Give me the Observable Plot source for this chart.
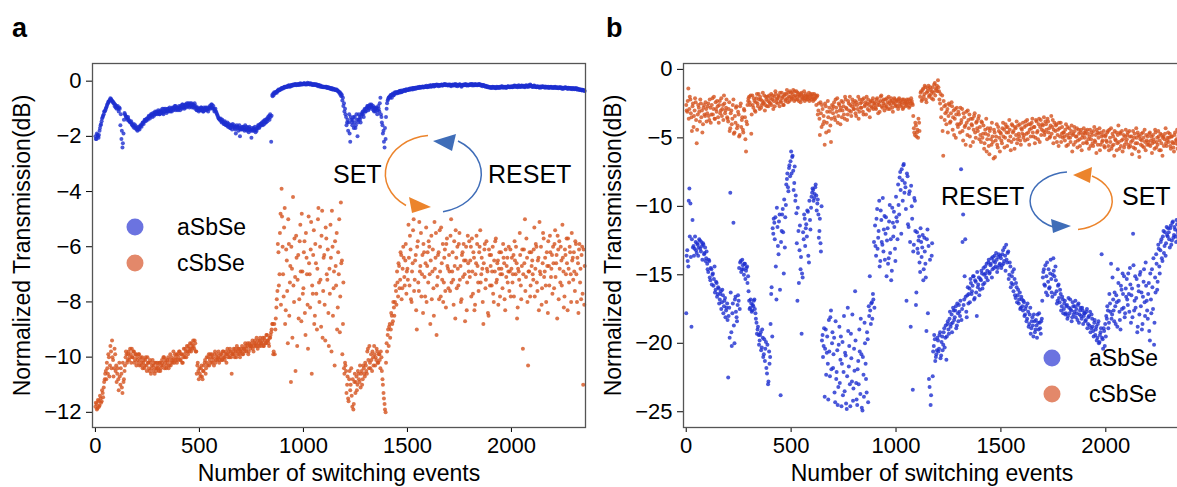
<!DOCTYPE html>
<html><head><meta charset="utf-8">
<script src="https://cdn.jsdelivr.net/npm/d3@7"></script>
<script src="https://cdn.jsdelivr.net/npm/@observablehq/plot@0.6"></script>
<style>
html,body{margin:0;padding:0;background:#fff;overflow:hidden;}
#wrap{position:relative;width:1177px;height:487px;overflow:hidden;font-family:"Liberation Sans",Arial,Helvetica,sans-serif;}
.panel{position:absolute;top:0;width:600px;height:487px;}
.panel svg{max-width:none !important;}
#overlay{position:absolute;left:0;top:0;pointer-events:none;}
</style></head>
<body><div id="wrap"><div id="pa" class="panel" style="left:0px"></div><div id="pb" class="panel" style="left:590px"></div></div>
<script>
// samples are stored every EVENT_STEP switching events; the *_alt lists are the samples
// taken ALT_OFFSET events later in each step
const EVENT_STEP = 5;
const ALT_OFFSET = 2;
const seriesNames = ["aSbSe", "cSbSe"];
const xTicks = [0, 500, 1000, 1500, 2000];
const yTicksA = [0, -2, -4, -6, -8, -10, -12];
const yTicksB = [0, -5, -10, -15, -20, -25];

// ---------- Panel a, aSbSe (blue) ----------
const aSbSe_a = [
-2.0,-2.1,-1.95,-2.05,-1.8,-1.6,-1.45,-1.3,-1.2,-1.1,-1.0,-0.9,-0.8,-0.75,-0.68,-0.65,-0.7,-0.75,-0.8,-0.85,
-0.9,-0.95,-1.0,-0.95,-1.6,-2.1,-2.4,-1.9,-1.15,-1.25,-1.3,-1.35,-1.4,-1.45,-1.5,-1.55,-1.6,-1.55,-1.65,-1.7,
-1.7,-1.75,-1.7,-1.65,-1.6,-1.55,-1.5,-1.45,-1.4,-1.4,-1.35,-1.3,-1.3,-1.25,-1.2,-1.3,-1.2,-1.15,-1.2,-1.1,
-1.15,-1.1,-1.2,-1.05,-1.1,-1.15,-1.0,-1.1,-1.05,-1.1,-1.0,-1.05,-1.1,-1.0,-0.95,-1.05,-1.0,-0.9,-1.0,-0.95,
-1.0,-0.95,-0.9,-1.0,-0.85,-0.9,-0.95,-0.85,-0.8,-0.9,-0.85,-0.8,-0.9,-0.95,-0.85,-0.9,-1.0,-0.95,-1.05,-1.0,
-1.0,-1.05,-0.95,-1.0,-1.1,-1.0,-0.95,-1.05,-1.0,-1.0,-0.9,-0.95,-0.85,-1.0,-1.0,-1.05,-1.1,-1.2,-1.3,-1.35,
-1.4,-1.45,-1.4,-1.5,-1.55,-1.5,-1.6,-1.5,-1.65,-1.6,-1.7,-1.6,-1.55,-1.65,-1.7,-1.9,-1.6,-1.65,-1.7,-2.0,
-1.7,-1.65,-1.75,-1.7,-1.6,-1.75,-1.8,-1.7,-1.65,-1.75,-2.05,-1.8,-1.7,-1.75,-1.85,-1.8,-1.7,-1.6,-1.65,-1.55,
-1.5,-1.6,-1.45,-1.4,-1.5,-1.35,-1.3,-1.25,-1.2,-2.2,-0.5,-0.45,-0.4,-0.42,-0.38,-0.35,-0.3,-0.32,-0.28,-0.25,
-0.25,-0.22,-0.2,-0.22,-0.18,-0.2,-0.15,-0.2,-0.18,-0.15,-0.12,-0.15,-0.1,-0.15,-0.12,-0.1,-0.14,-0.08,-0.12,-0.1,
-0.1,-0.08,-0.12,-0.1,-0.06,-0.1,-0.12,-0.08,-0.1,-0.14,-0.12,-0.1,-0.15,-0.12,-0.18,-0.15,-0.2,-0.18,-0.2,-0.22,
-0.2,-0.22,-0.2,-0.25,-0.22,-0.25,-0.28,-0.25,-0.3,-0.28,-0.3,-0.32,-0.3,-0.35,-0.38,-0.4,-0.45,-0.5,-0.6,-0.8,
-1.0,-1.3,-1.5,-1.8,-1.2,-2.2,-1.4,-1.6,-1.3,-1.5,-1.7,-1.2,-2.0,-1.4,-1.3,-1.5,-1.2,-1.1,-1.3,-1.0,
-1.1,-0.95,-0.9,-1.0,-0.85,-0.9,-1.0,-0.9,-1.1,-1.0,-0.95,-1.2,-0.9,-1.1,-0.6,-1.3,-1.6,-1.8,-2.4,-2.1,
-1.0,-0.7,-0.6,-0.55,-0.5,-0.6,-0.45,-0.5,-0.4,-0.45,-0.4,-0.38,-0.42,-0.35,-0.4,-0.38,-0.35,-0.32,-0.36,-0.3,
-0.32,-0.3,-0.28,-0.3,-0.26,-0.3,-0.25,-0.28,-0.24,-0.26,-0.22,-0.25,-0.2,-0.24,-0.22,-0.2,-0.22,-0.18,-0.2,-0.22,
-0.2,-0.18,-0.15,-0.2,-0.17,-0.14,-0.18,-0.15,-0.12,-0.16,-0.18,-0.14,-0.15,-0.12,-0.16,-0.14,-0.1,-0.15,-0.13,-0.16,
-0.15,-0.12,-0.18,-0.14,-0.16,-0.12,-0.1,-0.15,-0.18,-0.14,-0.12,-0.16,-0.2,-0.15,-0.12,-0.14,-0.1,-0.16,-0.13,-0.15,
-0.14,-0.1,-0.12,-0.16,-0.13,-0.1,-0.15,-0.12,-0.14,-0.1,-0.12,-0.15,-0.18,-0.14,-0.16,-0.2,-0.18,-0.22,-0.2,-0.24,
-0.22,-0.25,-0.2,-0.24,-0.22,-0.26,-0.2,-0.23,-0.25,-0.2,-0.22,-0.18,-0.24,-0.2,-0.22,-0.25,-0.2,-0.18,-0.22,-0.2,
-0.18,-0.22,-0.2,-0.16,-0.2,-0.18,-0.22,-0.15,-0.18,-0.2,-0.16,-0.2,-0.18,-0.22,-0.15,-0.18,-0.2,-0.17,-0.12,-0.16,
-0.18,-0.2,-0.16,-0.2,-0.22,-0.18,-0.2,-0.24,-0.2,-0.22,-0.18,-0.2,-0.22,-0.24,-0.2,-0.22,-0.25,-0.22,-0.2,-0.24,
-0.22,-0.25,-0.2,-0.24,-0.22,-0.26,-0.24,-0.22,-0.25,-0.28,-0.24,-0.26,-0.22,-0.25,-0.28,-0.24,-0.26,-0.28,-0.25,-0.27,
-0.26,-0.28,-0.25,-0.3,-0.28,-0.3,-0.32,-0.3,-0.34,-0.32,-0.35
];
const aSbSe_a_alt = [
-2.1,-1.9,-2.0,-1.95,-1.7,-1.55,-1.35,-1.25,-1.1,-1.05,-0.95,-0.85,-0.75,-0.7,-0.62,-0.7,-0.75,-0.8,-0.9,-0.95,
-1.0,-0.9,-1.1,-1.0,-1.2,-1.8,-2.25,-1.4,-1.2,-1.3,-1.4,-1.3,-1.45,-1.5,-1.45,-1.6,-1.65,-1.7,-1.6,-1.75,
-1.8,-1.65,-1.75,-1.6,-1.65,-1.5,-1.55,-1.4,-1.45,-1.35,-1.4,-1.25,-1.35,-1.2,-1.25,-1.15,-1.25,-1.1,-1.15,-1.2,
-1.05,-1.2,-1.1,-1.15,-1.0,-1.2,-1.1,-1.0,-1.15,-1.0,-1.1,-0.95,-1.05,-1.1,-1.0,-0.95,-0.9,-1.05,-0.95,-1.05,
-0.9,-1.05,-0.95,-0.85,-0.95,-1.0,-0.85,-0.95,-0.9,-0.8,-0.95,-0.9,-0.8,-0.85,-0.95,-0.8,-0.9,-1.05,-0.95,-1.1,
-1.05,-0.95,-1.05,-1.1,-0.95,-1.05,-1.0,-0.95,-1.1,-0.95,-1.0,-0.85,-0.95,-0.9,-1.1,-1.0,-1.15,-1.25,-1.35,-1.4,
-1.35,-1.5,-1.45,-1.55,-1.45,-1.6,-1.55,-1.65,-1.55,-1.7,-1.6,-1.75,-1.65,-1.6,-1.75,-1.65,-1.7,-1.8,-1.6,-1.75,
-1.75,-1.7,-1.65,-1.8,-1.75,-1.65,-1.7,-1.85,-1.75,-1.8,-1.7,-1.75,-1.8,-1.65,-1.75,-1.7,-1.6,-1.7,-1.55,-1.6,
-1.55,-1.45,-1.55,-1.5,-1.4,-1.45,-1.35,-1.4,-1.3,-1.25,-0.55,-0.5,-0.45,-0.4,-0.42,-0.36,-0.34,-0.3,-0.3,-0.27,
-0.27,-0.24,-0.22,-0.2,-0.2,-0.17,-0.18,-0.16,-0.14,-0.17,-0.14,-0.12,-0.13,-0.11,-0.14,-0.12,-0.1,-0.12,-0.09,-0.12,
-0.08,-0.11,-0.09,-0.12,-0.1,-0.08,-0.1,-0.12,-0.13,-0.1,-0.14,-0.13,-0.12,-0.16,-0.14,-0.17,-0.16,-0.2,-0.19,-0.2,
-0.22,-0.2,-0.24,-0.22,-0.26,-0.24,-0.27,-0.29,-0.27,-0.31,-0.29,-0.33,-0.34,-0.37,-0.42,-0.48,-0.55,-0.7,-0.9,-1.1,
-1.2,-1.6,-1.4,-1.5,-1.9,-1.3,-1.5,-1.4,-1.7,-1.3,-1.6,-1.4,-1.5,-1.2,-1.4,-1.3,-1.15,-1.2,-1.05,-1.1,
-1.0,-0.9,-1.05,-0.95,-0.9,-0.85,-0.95,-1.05,-0.95,-1.1,-1.0,-1.05,-1.0,-0.8,-1.2,-1.5,-1.9,-2.2,-1.7,-1.3,
-0.8,-0.65,-0.58,-0.6,-0.5,-0.48,-0.52,-0.45,-0.42,-0.4,-0.44,-0.4,-0.36,-0.4,-0.34,-0.37,-0.33,-0.35,-0.3,-0.33,
-0.29,-0.32,-0.27,-0.29,-0.28,-0.25,-0.27,-0.24,-0.27,-0.23,-0.25,-0.21,-0.23,-0.21,-0.19,-0.23,-0.2,-0.21,-0.17,-0.2,
-0.17,-0.2,-0.16,-0.18,-0.15,-0.19,-0.14,-0.17,-0.15,-0.13,-0.15,-0.17,-0.13,-0.16,-0.13,-0.11,-0.14,-0.12,-0.15,-0.12,
-0.13,-0.16,-0.14,-0.12,-0.15,-0.14,-0.17,-0.12,-0.14,-0.16,-0.11,-0.14,-0.17,-0.13,-0.15,-0.12,-0.15,-0.13,-0.16,-0.12,
-0.12,-0.15,-0.1,-0.13,-0.15,-0.12,-0.13,-0.15,-0.11,-0.13,-0.16,-0.13,-0.15,-0.17,-0.18,-0.17,-0.2,-0.19,-0.22,-0.21,
-0.24,-0.21,-0.23,-0.21,-0.25,-0.22,-0.24,-0.21,-0.22,-0.24,-0.19,-0.22,-0.21,-0.23,-0.2,-0.22,-0.19,-0.21,-0.2,-0.22,
-0.2,-0.19,-0.17,-0.2,-0.17,-0.2,-0.18,-0.19,-0.21,-0.17,-0.19,-0.17,-0.2,-0.18,-0.17,-0.2,-0.15,-0.19,-0.16,-0.19,
-0.21,-0.17,-0.19,-0.21,-0.19,-0.21,-0.22,-0.19,-0.23,-0.19,-0.21,-0.23,-0.19,-0.21,-0.23,-0.2,-0.23,-0.21,-0.24,-0.22,
-0.24,-0.21,-0.23,-0.25,-0.23,-0.24,-0.22,-0.26,-0.23,-0.25,-0.27,-0.23,-0.26,-0.24,-0.26,-0.27,-0.25,-0.27,-0.29,-0.26,
-0.29,-0.27,-0.29,-0.27,-0.31,-0.29,-0.31,-0.33,-0.31,-0.33,-0.36
];

// ---------- Panel a, cSbSe (orange) ----------
const cSbSe_a = [
-11.8,-11.7,-11.85,-11.6,-11.75,-11.5,-11.6,-11.3,-11.1,-10.8,-10.5,-10.2,-10.6,-10.0,-10.3,-9.8,-9.4,-10.1,-10.4,-9.9,
-10.3,-10.6,-10.8,-10.2,-11.0,-10.6,-11.3,-10.9,-10.5,-10.0,-9.9,-10.1,-9.8,-10.0,-9.9,-9.7,-10.0,-9.8,-10.1,-9.9,
-10.0,-10.2,-9.9,-10.1,-10.3,-10.0,-10.2,-10.4,-10.1,-10.3,-10.0,-10.2,-10.5,-10.2,-10.4,-10.1,-10.3,-10.6,-10.2,-10.4,
-10.3,-10.5,-10.2,-10.4,-10.1,-10.3,-10.0,-10.2,-10.4,-10.1,-10.0,-10.3,-9.9,-10.2,-10.1,-9.8,-10.2,-10.0,-9.9,-10.1,
-10.0,-9.8,-10.1,-9.9,-10.2,-9.7,-10.0,-9.8,-9.6,-9.9,-9.7,-9.5,-9.8,-9.6,-9.4,-9.7,-9.5,-9.8,-10.3,-10.5,
-10.4,-10.7,-10.3,-10.8,-10.5,-10.2,-10.6,-10.0,-10.3,-9.9,-10.1,-10.2,-9.9,-10.0,-10.3,-9.8,-10.1,-9.9,-10.0,-10.2,
-10.0,-9.9,-10.1,-9.8,-10.0,-9.9,-10.2,-9.7,-9.9,-10.0,-9.8,-10.6,-9.9,-9.7,-10.0,-9.8,-9.6,-9.9,-9.7,-10.0,
-9.8,-9.6,-9.9,-9.7,-9.5,-9.8,-9.6,-9.9,-9.5,-9.7,-9.6,-9.4,-9.8,-9.5,-9.6,-9.3,-9.7,-9.5,-9.4,-9.6,
-9.5,-9.3,-9.6,-9.4,-9.5,-9.2,-9.4,-9.6,-9.3,-9.1,-8.8,-9.9,-8.8,-9.0,-8.2,-7.6,-6.2,-7.0,-4.8,-3.9,
-6.0,-7.8,-4.6,-8.3,-6.5,-9.5,-5.9,-7.3,-10.9,-6.8,-4.2,-8.0,-7.1,-5.6,-9.6,-6.3,-7.9,-5.2,-8.7,-6.9,
-7.5,-5.8,-9.2,-6.4,-8.1,-4.9,-7.0,-6.1,-10.6,-7.7,-5.4,-8.5,-6.6,-9.0,-5.0,-7.3,-6.0,-8.9,-4.7,-7.6,
-6.3,-9.4,-5.7,-7.2,-8.4,-6.8,-5.2,-9.8,-6.0,-7.5,-10.3,-6.7,-5.5,-8.2,-7.0,-9.1,-4.4,-6.5,-8.8,-10.4,
-10.2,-10.5,-11.0,-11.5,-10.8,-11.2,-10.4,-11.8,-11.9,-10.9,-11.3,-10.7,-11.0,-10.6,-10.9,-11.1,-10.5,-10.8,-10.4,-10.7,
-10.3,-10.6,-9.7,-10.4,-10.2,-9.9,-10.5,-10.0,-9.6,-10.3,-10.1,-9.8,-10.2,-9.9,-10.4,-10.0,-10.8,-11.3,-11.7,-12.0,
-9.5,-9.2,-9.6,-8.8,-9.0,-8.5,-8.7,-8.2,-8.0,-7.6,-6.9,-7.8,-6.7,-7.2,-6.3,-7.5,-6.0,-7.1,-6.5,-7.7,
-6.8,-5.2,-7.4,-6.1,-8.0,-6.6,-5.0,-7.2,-6.3,-9.0,-5.8,-7.6,-6.9,-5.5,-7.0,-8.4,-6.2,-7.8,-5.3,-6.7,
-7.3,-6.0,-8.8,-5.6,-6.9,-7.5,-5.1,-6.4,-9.2,-7.1,-6.2,-5.4,-7.8,-6.6,-5.9,-7.3,-6.1,-8.2,-5.7,-6.8,
-6.3,-7.6,-5.0,-6.9,-7.2,-5.8,-8.6,-6.4,-6.0,-7.4,-5.5,-6.7,-7.9,-6.2,-5.9,-7.0,-6.5,-8.3,-5.6,-6.9,
-7.1,-6.0,-5.7,-7.7,-6.4,-8.1,-6.6,-5.9,-7.3,-6.2,-5.4,-7.0,-6.8,-8.8,-6.1,-7.5,-5.8,-6.9,-8.5,-6.3,
-6.7,-7.4,-6.0,-8.0,-6.9,-5.7,-7.2,-6.5,-6.8,-7.8,-6.2,-7.0,-5.9,-6.6,-8.3,-7.1,-6.4,-6.9,-7.6,-6.1,
-6.8,-7.3,-6.3,-5.8,-7.0,-6.6,-8.2,-6.9,-5.5,-7.4,-6.7,-9.7,-6.1,-5.0,-7.1,-6.4,-10.3,-6.9,-7.8,-6.2,
-6.5,-7.2,-5.3,-6.8,-6.0,-7.6,-6.4,-5.1,-7.0,-8.1,-6.6,-5.7,-6.9,-7.4,-6.2,-8.4,-6.7,-5.6,-7.1,-6.3,
-6.0,-7.5,-5.4,-6.6,-8.6,-6.1,-5.8,-7.3,-6.5,-5.2,-6.9,-7.8,-6.3,-5.7,-8.3,-6.8,-6.0,-7.0,-5.5,-6.4,
-6.2,-7.6,-5.9,-8.0,-6.6,-6.1,-7.3,-7.9,-6.0,-11.0,-8.1
];
const cSbSe_a_alt = [
-11.65,-11.9,-11.55,-11.8,-11.4,-11.65,-11.2,-11.45,-10.9,-10.6,-10.8,-10.4,-9.9,-10.7,-9.6,-10.4,-10.0,-10.7,-9.7,-10.5,
-10.9,-10.4,-11.2,-10.7,-10.4,-11.1,-10.2,-10.8,-10.3,-9.8,-10.2,-9.9,-10.1,-9.7,-10.2,-10.0,-9.8,-10.2,-9.9,-10.3,
-10.1,-9.9,-10.3,-10.0,-10.2,-10.4,-10.1,-10.3,-10.0,-10.5,-10.2,-10.4,-10.1,-10.6,-10.3,-10.5,-10.2,-10.4,-10.5,-10.2,
-10.4,-10.2,-10.5,-10.3,-10.2,-10.0,-10.4,-10.1,-10.3,-10.2,-10.4,-10.1,-10.3,-10.0,-10.2,-10.1,-9.9,-10.1,-10.2,-9.9,
-9.8,-10.1,-9.9,-10.2,-10.0,-9.9,-9.7,-10.0,-9.8,-9.6,-9.8,-9.7,-9.5,-9.7,-9.6,-9.4,-9.8,-10.6,-10.2,-10.8,
-10.6,-10.4,-10.7,-10.5,-10.3,-10.1,-10.4,-10.2,-10.0,-10.3,-9.9,-10.0,-10.2,-10.1,-9.9,-10.2,-10.0,-10.1,-9.8,-10.1,
-9.9,-10.1,-9.8,-10.0,-10.1,-9.8,-9.9,-10.0,-9.8,-9.7,-10.0,-9.9,-9.8,-9.9,-9.7,-10.0,-9.8,-9.7,-9.9,-9.8,
-9.7,-9.9,-9.7,-9.8,-9.6,-9.7,-9.5,-9.8,-9.6,-9.6,-9.5,-9.7,-9.6,-9.4,-9.5,-9.6,-9.4,-9.6,-9.3,-9.5,
-9.4,-9.6,-9.3,-9.5,-9.2,-9.4,-9.5,-9.3,-9.2,-9.0,-8.8,-9.8,-9.9,-8.6,-7.9,-5.9,-7.4,-5.5,-8.1,-4.9,
-7.0,-5.3,-8.8,-6.1,-7.6,-5.0,-8.5,-6.7,-6.0,-9.3,-7.4,-5.7,-10.5,-6.4,-7.2,-8.6,-5.8,-6.9,-4.8,-7.7,
-6.2,-8.4,-5.5,-7.0,-9.7,-6.6,-8.2,-5.1,-7.4,-6.3,-8.8,-5.9,-7.7,-6.8,-4.6,-8.0,-7.2,-5.6,-9.3,-6.4,
-8.1,-5.3,-7.0,-6.1,-9.6,-7.7,-6.4,-4.7,-8.5,-6.9,-5.8,-7.4,-9.0,-6.2,-5.0,-7.8,-6.6,-9.9,-7.3,-10.6,
-10.3,-11.3,-10.7,-11.6,-10.5,-11.0,-11.4,-10.8,-11.7,-10.6,-10.9,-11.2,-10.5,-10.8,-10.3,-10.6,-11.0,-10.3,-10.6,-10.2,
-10.5,-9.8,-10.1,-9.6,-10.4,-10.1,-9.8,-10.3,-9.9,-10.0,-9.7,-10.2,-9.9,-10.1,-9.8,-10.5,-11.0,-11.5,-11.9,-10.2,
-9.8,-9.0,-8.9,-9.3,-8.4,-8.8,-8.0,-8.5,-7.4,-8.1,-7.3,-6.6,-7.5,-6.2,-7.9,-6.8,-6.4,-7.4,-5.9,-6.9,
-7.2,-6.4,-5.6,-7.9,-6.9,-5.4,-7.6,-6.5,-8.3,-6.0,-7.3,-5.1,-6.7,-7.8,-6.3,-5.9,-7.1,-6.6,-8.0,-6.2,
-5.8,-7.0,-6.5,-7.9,-6.1,-8.5,-6.8,-5.5,-7.4,-6.3,-7.9,-6.9,-5.3,-7.2,-8.0,-6.4,-7.6,-5.9,-6.7,-7.5,
-6.9,-5.6,-7.3,-6.2,-8.1,-6.7,-5.4,-7.5,-6.8,-5.9,-7.2,-8.0,-6.3,-7.1,-6.5,-8.7,-6.0,-7.3,-6.6,-5.8,
-6.5,-7.8,-6.9,-6.2,-8.3,-7.0,-5.6,-6.7,-7.6,-6.0,-7.3,-6.4,-8.0,-6.6,-5.9,-7.2,-6.8,-8.4,-6.1,-7.4,
-6.3,-6.9,-7.7,-6.5,-5.8,-7.3,-6.6,-8.1,-6.2,-7.0,-6.8,-7.5,-6.4,-7.9,-6.1,-6.7,-7.3,-6.0,-6.9,-7.8,
-6.4,-7.0,-7.8,-6.5,-6.0,-8.6,-6.8,-7.2,-6.3,-7.9,-6.1,-7.0,-6.6,-7.6,-5.7,-8.0,-6.9,-6.2,-7.4,-6.7,
-7.0,-6.1,-7.8,-5.9,-7.3,-6.5,-8.3,-6.9,-6.0,-7.5,-5.5,-7.1,-6.4,-8.0,-6.7,-5.8,-7.4,-6.2,-6.8,-7.7,
-6.6,-5.9,-7.1,-6.3,-5.6,-7.9,-6.8,-6.0,-7.4,-6.4,-8.2,-6.1,-7.0,-6.6,-5.7,-7.3,-6.2,-8.0,-6.5,-7.2,
-6.9,-5.8,-7.0,-6.4,-8.4,-5.9,-6.8,-6.3,-7.7,-6.1,-6.7
];

// ---------- Panel b, aSbSe (blue) ----------
const aSbSe_b = [
-17.8,-13.2,-14.4,-8.7,-9.8,-18.8,-11.0,-12.9,-13.1,-12.6,-13.4,-12.8,-13.0,-12.5,-13.3,-12.9,-12.7,-13.5,-13.0,-13.8,
-14.2,-14.8,-14.0,-15.4,-14.6,-15.0,-15.8,-14.4,-16.1,-15.6,-16.4,-16.0,-16.8,-16.2,-17.0,-16.5,-17.3,-16.7,-17.6,-17.1,
-22.5,-17.4,-9.0,-19.2,-17.8,-11.2,-20.0,-16.6,-18.1,-17.2,-16.9,-17.5,-14.0,-14.6,-14.3,-15.0,-14.2,-14.7,-14.4,-15.1,
-16.9,-17.4,-17.1,-17.6,-17.3,-16.8,-17.8,-18.5,-19.0,-19.4,-19.8,-19.2,-20.3,-19.6,-20.8,-21.3,-19.9,-22.2,-23.0,-20.6,
-21.0,-16.4,-19.5,-12.0,-11.2,-10.8,-16.8,-11.5,-13.5,-10.6,-23.8,-11.8,-10.2,-14.9,-13.0,-9.9,-8.0,-8.6,-7.2,-7.8,
-6.0,-6.4,-7.4,-8.3,-9.6,-10.5,-16.9,-11.8,-13.2,-14.6,-19.3,-15.2,-12.4,-10.9,-11.6,-12.2,-10.4,-14.1,-11.0,-10.1,
-9.0,-8.8,-9.4,-8.6,-9.2,-9.8,-10.6,-11.8,-12.7,-10.0,-19.4,-20.2,-23.9,-19.0,-20.7,-21.5,-18.3,-22.4,-17.6,-20.0,
-21.8,-19.6,-24.3,-22.6,-20.5,-23.2,-18.8,-21.2,-24.6,-19.9,-22.1,-23.5,-20.9,-24.8,-17.4,-21.7,-23.0,-19.3,-22.8,-24.2,
-20.4,-16.2,-22.9,-24.5,-21.3,-19.0,-23.7,-20.8,-24.9,-22.3,-18.5,-21.5,-23.6,-19.7,-17.3,-15.1,-18.6,-17.0,-16.4,-12.6,
-11.4,-13.6,-10.2,-12.3,-9.6,-14.0,-11.0,-12.8,-13.3,-10.7,-12.0,-15.1,-11.6,-13.8,-9.9,-12.4,-14.7,-11.2,-10.4,-13.1,
-9.3,-11.1,-8.4,-10.6,-7.5,-12.0,-8.1,-7.0,-9.0,-8.6,-16.9,-7.8,-11.5,-8.9,-18.8,-10.0,-23.4,-12.8,-9.6,-17.2,
-11.9,-13.4,-12.2,-14.8,-12.6,-13.0,-15.4,-12.3,-14.2,-19.1,-11.7,-12.9,-23.2,-24.5,-13.6,-22.4,-20.2,-19.7,-21.0,-20.5,
-19.8,-20.4,-19.2,-20.9,-19.5,-20.1,-18.9,-19.6,-21.2,-18.6,-19.0,-18.2,-18.8,-17.9,-18.5,-17.6,-18.1,-17.3,-18.7,-17.8,
-17.2,-18.0,-7.3,-17.5,-10.6,-16.8,-12.4,-17.7,-16.5,-17.1,-16.0,-15.3,-16.4,-15.8,-15.1,-16.7,-15.5,-18.0,-15.9,-15.2,
-16.1,-15.4,-14.9,-15.7,-15.0,-14.4,-15.2,-14.7,-14.1,-14.9,-14.3,-13.8,-14.6,-14.0,-13.6,-14.4,-13.9,-14.5,-13.5,-14.2,
-13.8,-14.3,-13.2,-14.0,-13.6,-12.8,-14.1,-13.3,-15.0,-14.4,-15.6,-14.8,-16.2,-15.3,-16.7,-15.9,-16.5,-17.1,-16.3,-17.4,
-16.8,-17.6,-17.0,-17.9,-17.3,-18.2,-17.7,-18.6,-17.4,-18.9,-18.1,-19.5,-18.4,-19.0,-18.7,-17.9,-19.0,-18.5,-19.3,-18.2,
-15.2,-14.6,-15.8,-16.3,-14.1,-15.5,-16.0,-14.9,-15.3,-16.6,-13.8,-15.1,-14.4,-16.2,-16.9,-15.7,-17.0,-16.4,-17.3,-16.8,
-17.5,-16.9,-17.8,-17.2,-18.0,-17.4,-16.8,-17.6,-18.1,-17.3,-17.7,-16.9,-17.5,-18.3,-17.1,-17.9,-17.4,-18.2,-17.6,-18.0,
-17.8,-18.3,-17.5,-18.6,-18.0,-17.7,-18.9,-18.2,-19.1,-18.5,-19.4,-18.8,-19.6,-18.4,-19.9,-19.2,-13.5,-19.7,-18.9,-20.2,
-19.5,-18.2,-17.6,-18.5,-17.1,-14.2,-17.9,-16.8,-18.4,-17.3,-16.5,-18.8,-15.6,-17.7,-19.0,-16.1,-14.9,-17.4,-18.1,-16.0,
-15.3,-17.2,-16.4,-14.5,-18.5,-16.0,-12.0,-17.6,-15.1,-16.7,-19.2,-15.8,-17.9,-14.8,-16.3,-18.6,-15.5,-17.0,-14.1,-16.9,
-18.2,-15.6,-19.8,-16.8,-14.6,-17.5,-20.1,-15.2,-13.5,-16.1,-12.8,-14.4,-13.2,-12.4,-14.0,-11.8,-12.9,-13.6,-11.5,-12.2,
-11.9,-13.0,-11.4,-12.5,-11.1,-12.1,-11.7,-12.6,-11.3,-12.0,-11.6
];
const aSbSe_b_alt = [
-13.6,-14.0,-9.6,-12.2,-13.7,-12.4,-13.0,-13.6,-12.2,-13.2,-12.7,-13.6,-12.4,-13.1,-12.6,-13.9,-12.8,-13.4,-14.0,-13.3,
-14.6,-13.9,-15.2,-14.5,-15.7,-14.9,-15.3,-16.3,-15.5,-16.6,-15.9,-17.1,-16.4,-17.5,-16.1,-17.8,-16.9,-18.1,-17.4,-18.3,
-18.0,-19.6,-16.3,-20.2,-17.1,-18.7,-16.8,-17.7,-18.4,-16.5,-14.5,-14.1,-14.8,-13.9,-14.6,-14.2,-15.3,-14.5,-15.6,-16.2,
-17.5,-16.8,-17.7,-17.2,-16.9,-17.5,-18.2,-19.3,-18.8,-20.1,-19.4,-20.5,-19.0,-21.0,-19.7,-20.4,-21.8,-20.1,-22.8,-21.5,
-18.6,-15.9,-11.6,-10.9,-12.4,-14.4,-10.1,-12.9,-11.1,-16.1,-12.6,-10.6,-11.9,-9.5,-10.8,-8.4,-7.6,-8.9,-7.0,-6.7,
-7.6,-6.3,-8.8,-7.1,-9.2,-12.7,-10.1,-15.6,-11.4,-13.7,-14.9,-11.9,-10.6,-12.9,-11.3,-10.3,-13.6,-9.6,-11.7,-9.3,
-8.7,-9.6,-9.1,-8.4,-10.3,-9.5,-12.3,-10.9,-13.3,-19.8,-21.0,-18.9,-20.4,-22.3,-19.5,-24.1,-20.6,-18.1,-21.9,-19.2,
-20.8,-23.6,-18.4,-22.1,-24.5,-20.1,-22.9,-19.5,-21.5,-23.8,-18.0,-20.7,-24.4,-22.4,-19.1,-20.2,-24.6,-21.1,-17.9,-23.3,
-22.0,-19.8,-24.1,-21.9,-23.0,-20.6,-18.2,-24.7,-21.0,-23.9,-20.0,-22.6,-19.2,-24.3,-18.0,-17.6,-17.1,-18.2,-16.8,-17.4,
-12.9,-10.9,-13.1,-11.8,-14.4,-10.3,-12.6,-9.4,-11.7,-13.9,-10.8,-12.5,-14.2,-11.1,-13.4,-15.4,-10.1,-12.2,-11.5,-14.0,
-10.8,-12.4,-9.9,-7.9,-8.8,-7.3,-9.6,-6.9,-8.3,-10.2,-7.6,-11.3,-9.1,-12.6,-8.5,-10.9,-13.3,-9.4,-11.8,-16.3,
-13.1,-12.5,-14.1,-11.6,-13.7,-12.1,-14.6,-13.3,-15.2,-12.4,-17.8,-22.6,-13.9,-23.8,-12.7,-20.6,-19.4,-21.3,-20.8,-19.6,
-20.6,-19.4,-21.1,-19.9,-20.5,-19.2,-20.3,-18.7,-19.5,-18.4,-19.3,-17.7,-18.6,-19.2,-17.4,-18.3,-17.6,-18.9,-17.1,-18.4,
-17.7,-16.9,-18.3,-12.6,-17.2,-15.1,-16.6,-18.1,-15.9,-16.4,-17.0,-15.6,-16.2,-15.1,-16.8,-15.4,-16.3,-14.8,-15.7,-16.5,
-15.3,-14.7,-16.0,-14.5,-15.6,-14.9,-14.2,-15.4,-13.9,-14.8,-14.2,-15.2,-13.7,-14.5,-14.1,-13.4,-14.8,-13.7,-14.3,-13.6,
-14.5,-13.5,-14.2,-13.0,-14.7,-13.9,-13.4,-15.3,-14.1,-15.9,-15.1,-15.7,-14.6,-16.5,-15.6,-17.0,-16.1,-16.8,-17.5,-16.6,
-17.3,-16.9,-18.0,-17.5,-18.4,-17.1,-18.8,-17.9,-19.3,-18.4,-18.7,-17.9,-19.2,-18.3,-19.6,-18.5,-17.8,-18.9,-18.4,-16.9,
-14.8,-15.7,-14.3,-15.1,-16.5,-14.6,-15.9,-13.9,-16.3,-15.0,-14.7,-16.4,-15.4,-17.1,-15.8,-16.7,-16.1,-17.6,-16.6,-17.8,
-17.1,-17.9,-17.3,-18.2,-16.7,-17.8,-17.5,-18.4,-17.0,-17.9,-17.3,-18.1,-17.8,-17.2,-18.5,-17.6,-18.0,-17.4,-18.6,-17.8,
-18.4,-17.7,-18.9,-18.1,-18.7,-19.2,-17.9,-18.8,-19.5,-18.3,-19.0,-19.8,-18.6,-20.0,-19.4,-18.9,-19.6,-20.4,-19.1,-18.6,
-18.0,-17.3,-18.9,-16.4,-17.7,-18.2,-15.2,-17.6,-16.3,-18.6,-17.0,-14.6,-16.9,-18.3,-15.8,-17.5,-16.4,-15.1,-17.8,-16.6,
-16.8,-14.9,-17.7,-15.7,-16.5,-18.1,-14.3,-16.9,-17.4,-15.3,-18.8,-16.2,-15.0,-17.3,-19.0,-16.6,-14.6,-18.0,-15.8,-17.6,
-16.4,-19.1,-14.9,-17.8,-15.9,-13.8,-18.5,-16.3,-14.2,-15.5,-13.1,-14.9,-12.6,-13.8,-12.2,-13.4,-11.9,-12.7,-12.1,-11.6,
-12.4,-11.6,-12.8,-11.2,-12.3,-11.5,-12.2,-11.0,-11.8,-12.4,-11.3
];

// ---------- Panel b, cSbSe (orange) ----------
const cSbSe_b = [
-2.6,-3.1,-1.4,-2.9,-2.2,-3.5,-2.7,-4.2,-3.0,-2.4,-5.4,-3.3,-2.8,-3.8,-2.5,-3.0,-4.0,-2.6,-3.4,-2.9,
-3.2,-2.5,-3.7,-2.8,-3.3,-2.1,-2.9,-3.6,-2.4,-3.1,-2.7,-3.9,-2.3,-3.0,-3.4,-2.6,-1.9,-3.2,-2.8,-3.5,
-3.8,-2.4,-4.3,-3.0,-3.6,-2.2,-4.6,-3.9,-2.7,-4.1,-3.3,-4.8,-2.5,-3.7,-4.4,-2.9,-3.5,-6.0,-4.0,-2.3,
-2.0,-2.6,-4.7,-1.9,-2.8,-2.3,-3.1,-2.1,-2.5,-1.8,-2.9,-2.2,-2.6,-1.7,-2.4,-3.0,-2.0,-2.7,-2.3,-1.9,
-2.5,-1.8,-2.2,-2.9,-2.0,-1.6,-2.4,-2.1,-1.9,-2.7,-2.3,-1.7,-2.0,-2.6,-1.8,-2.2,-1.5,-2.4,-2.0,-1.6,
-1.7,-2.1,-1.5,-2.3,-1.9,-1.6,-2.2,-1.8,-2.0,-2.4,-1.7,-2.1,-1.9,-2.3,-1.8,-2.0,-2.2,-1.7,-2.1,-1.9,
-2.0,-2.3,-1.8,-2.1,-2.6,-1.9,-3.0,-3.6,-2.4,-4.2,-2.9,-3.4,-5.5,-2.7,-3.9,-2.3,-4.5,-3.1,-5.3,-2.6,
-3.2,-2.4,-3.7,-2.8,-2.1,-3.4,-2.6,-4.0,-2.3,-3.0,-2.7,-3.6,-2.2,-2.9,-3.3,-2.5,-2.0,-3.1,-2.7,-2.4,
-2.9,-2.3,-3.4,-2.6,-2.0,-3.1,-2.5,-2.8,-2.2,-3.3,-2.7,-2.4,-2.0,-2.9,-2.6,-3.5,-2.3,-2.8,-2.1,-2.5,
-2.4,-2.9,-2.1,-3.2,-2.6,-2.3,-1.9,-2.8,-2.5,-3.0,-2.2,-2.7,-2.4,-2.0,-2.9,-2.6,-2.3,-3.1,-2.5,-2.2,
-2.6,-2.3,-2.9,-2.1,-2.7,-2.4,-2.2,-2.8,-2.5,-2.3,-2.6,-2.4,-2.2,-2.7,-2.5,-2.3,-2.6,-4.3,-4.8,-4.1,
-4.6,-5.0,-3.9,-2.0,-1.6,-2.2,-1.4,-1.8,-1.3,-2.4,-1.6,-1.2,-1.9,-1.5,-2.1,-1.3,-1.7,-1.0,-1.5,-1.2,
-0.8,-1.6,-2.5,-3.5,-1.9,-6.3,-2.7,-3.2,-4.0,-2.9,-3.4,-2.6,-3.8,-2.4,-4.4,-3.0,-3.6,-5.0,-2.8,-4.2,
-3.3,-4.6,-3.9,-2.9,-5.2,-3.5,-4.1,-3.1,-4.8,-3.7,-3.3,-5.6,-4.0,-3.6,-4.4,-3.2,-5.0,-3.8,-4.5,-3.4,
-4.2,-5.3,-3.9,-4.7,-5.8,-4.4,-3.6,-5.1,-4.8,-6.2,-4.3,-5.5,-4.9,-6.5,-4.6,-5.2,-4.0,-5.7,-4.5,-6.0,
-4.7,-5.4,-3.9,-4.4,-5.0,-4.2,-5.6,-4.6,-3.7,-4.9,-5.3,-4.1,-4.5,-5.8,-4.3,-3.8,-5.1,-4.7,-4.0,-5.5,
-4.4,-3.9,-4.8,-5.2,-4.1,-3.7,-4.6,-5.5,-4.0,-4.3,-3.6,-4.9,-4.2,-5.0,-3.8,-4.5,-4.0,-5.3,-3.7,-4.4,
-4.1,-3.5,-4.6,-4.0,-5.1,-3.8,-4.3,-4.9,-3.4,-4.2,-5.4,-3.9,-4.5,-4.0,-4.8,-5.6,-4.3,-3.9,-4.7,-5.0,
-4.6,-5.2,-4.0,-4.8,-5.5,-4.3,-5.0,-4.5,-6.0,-4.7,-4.2,-5.3,-4.9,-5.7,-4.4,-5.1,-4.6,-5.9,-4.8,-4.3,
-5.0,-4.5,-5.4,-4.7,-5.8,-4.4,-5.1,-4.8,-5.6,-4.2,-5.3,-6.1,-4.6,-5.0,-4.3,-5.5,-4.9,-5.2,-4.5,-5.7,
-4.8,-5.3,-4.5,-5.9,-5.0,-4.3,-5.6,-4.9,-6.3,-5.1,-4.6,-5.4,-4.1,-5.8,-4.7,-5.2,-6.0,-4.8,-5.5,-4.4,
-5.1,-4.6,-5.7,-4.9,-5.3,-6.2,-4.5,-5.0,-5.8,-4.3,-5.4,-4.8,-6.4,-5.1,-4.7,-5.6,-5.0,-4.4,-5.9,-5.2,
-4.9,-5.5,-4.6,-5.2,-6.1,-4.8,-5.3,-4.4,-5.7,-5.0,-4.5,-5.9,-4.7,-5.4,-6.3,-4.9,-5.1,-4.3,-5.6,-5.0,
-5.3,-4.7,-5.8,-4.9,-5.4,-6.0,-4.6,-5.2,-4.4,-5.5,-4.8
];
const cSbSe_b_alt = [
-3.0,-2.3,-3.6,-2.0,-3.2,-4.5,-2.5,-3.4,-2.1,-3.7,-4.4,-2.6,-3.1,-2.2,-3.5,-4.6,-2.8,-3.3,-2.4,-3.8,
-2.7,-3.4,-2.2,-3.9,-2.6,-3.3,-2.0,-3.6,-2.9,-2.3,-3.5,-2.6,-3.2,-2.1,-2.9,-3.7,-2.5,-3.0,-2.2,-3.6,
-2.9,-4.5,-3.2,-4.0,-2.6,-4.7,-3.4,-2.8,-4.3,-3.1,-4.9,-2.7,-4.2,-3.5,-4.6,-3.0,-5.1,-3.8,-2.6,-2.1,
-2.4,-1.9,-3.3,-2.6,-2.1,-3.0,-2.4,-1.8,-2.7,-2.2,-2.0,-2.8,-2.3,-2.5,-1.9,-2.6,-2.2,-2.0,-2.7,-2.4,
-2.1,-2.6,-1.9,-2.3,-2.7,-1.8,-2.2,-2.5,-2.0,-1.7,-2.4,-2.1,-2.6,-1.9,-2.3,-1.8,-2.1,-1.7,-2.3,-2.0,
-2.2,-1.8,-2.0,-1.6,-2.2,-2.0,-1.7,-2.3,-1.9,-1.8,-2.2,-2.0,-1.6,-2.1,-2.2,-1.9,-2.0,-2.3,-1.8,-2.2,
-1.8,-2.1,-2.2,-1.9,-2.0,-3.3,-2.5,-4.8,-3.2,-2.6,-4.0,-3.8,-2.5,-4.6,-3.1,-3.5,-2.8,-4.1,-3.6,-2.9,
-2.7,-3.5,-2.2,-3.1,-3.9,-2.5,-3.0,-2.8,-3.5,-2.4,-3.3,-2.0,-2.8,-3.7,-2.3,-3.0,-2.6,-3.4,-2.2,-2.9,
-2.6,-3.2,-2.4,-2.9,-3.6,-2.2,-2.8,-2.4,-3.1,-2.1,-2.6,-3.3,-2.5,-2.2,-3.0,-2.4,-2.7,-2.3,-2.9,-2.6,
-2.8,-2.2,-2.6,-2.4,-3.1,-2.0,-2.7,-2.3,-2.2,-2.6,-2.8,-2.1,-2.9,-2.5,-2.3,-2.1,-2.8,-2.4,-2.1,-2.7,
-2.3,-2.7,-2.2,-2.5,-2.3,-2.6,-2.9,-2.2,-2.4,-2.7,-2.2,-2.5,-2.8,-2.3,-2.1,-2.5,-3.4,-4.6,-3.9,-4.9,
-4.4,-3.6,-4.5,-1.7,-2.3,-1.5,-2.0,-1.2,-2.2,-1.7,-1.4,-2.0,-1.3,-1.8,-1.6,-2.2,-1.1,-1.9,-1.4,-1.6,
-1.3,-2.2,-1.8,-2.9,-4.5,-2.3,-3.7,-2.6,-3.1,-4.6,-2.5,-3.9,-3.2,-2.7,-3.5,-4.8,-2.9,-3.3,-4.0,-3.1,
-4.0,-2.8,-3.7,-4.5,-3.2,-4.2,-5.5,-3.9,-3.0,-4.3,-4.9,-3.6,-4.1,-5.3,-3.4,-4.6,-3.9,-4.3,-3.6,-5.1,
-4.8,-3.8,-5.0,-4.1,-5.4,-4.7,-6.0,-4.3,-5.6,-4.5,-5.1,-3.9,-5.3,-4.4,-6.4,-4.9,-5.5,-4.2,-5.0,-4.6,
-5.2,-4.3,-4.9,-5.7,-4.0,-4.6,-4.2,-5.2,-4.4,-5.9,-4.0,-4.6,-5.1,-4.2,-4.8,-5.4,-4.1,-4.9,-5.2,-4.3,
-4.7,-5.0,-4.2,-3.8,-4.7,-5.1,-4.0,-4.4,-4.9,-3.9,-4.6,-4.2,-5.4,-3.7,-4.6,-5.1,-3.6,-4.2,-4.8,-4.0,
-4.5,-4.8,-3.8,-4.4,-3.6,-4.6,-5.0,-4.1,-4.7,-3.7,-4.4,-5.0,-4.1,-5.3,-4.4,-3.9,-4.9,-5.3,-4.2,-4.6,
-4.9,-4.4,-5.6,-4.2,-5.0,-4.7,-5.3,-4.1,-4.8,-5.5,-4.5,-4.9,-4.3,-5.2,-4.7,-5.6,-4.4,-5.0,-5.4,-4.6,
-4.7,-5.3,-4.4,-5.1,-4.9,-5.6,-4.6,-5.4,-4.5,-5.2,-4.8,-4.4,-5.5,-4.7,-5.9,-4.6,-5.3,-4.8,-5.6,-4.9,
-5.2,-4.6,-5.6,-4.4,-5.3,-5.8,-4.7,-5.5,-4.5,-5.2,-5.9,-4.8,-5.3,-4.6,-5.6,-4.5,-5.1,-5.7,-4.9,-5.3,
-4.8,-5.5,-4.5,-5.6,-4.9,-5.2,-5.7,-4.7,-5.4,-5.0,-4.6,-6.0,-4.9,-5.5,-5.2,-4.6,-5.7,-5.3,-4.8,-5.5,
-5.3,-4.7,-5.6,-4.9,-5.4,-5.1,-5.8,-4.6,-5.3,-5.5,-4.9,-5.2,-5.9,-4.8,-5.0,-5.6,-4.7,-5.4,-5.2,-4.6,
-5.0,-5.6,-4.9,-5.3,-5.7,-4.8,-5.4,-5.1,-5.8,-4.9,-5.2
];

const colors = {aSbSe: "#1d2ed0", cSbSe: "#d5531e"};
const legendColors = {aSbSe: "#6b73e0", cSbSe: "#e3886a"};

const toRows = (main, alt) => [
  ...main.map((v, i) => ({event: i * EVENT_STEP, value: v})),
  ...alt.map((v, i) => ({event: i * EVENT_STEP + ALT_OFFSET, value: v}))
];

function panel({blue, orange, xDomain, yDomain, yTicks, marginLeft, marginRight}) {
  return Plot.plot({
    width: 600, height: 487,
    marginLeft, marginRight, marginTop: 63, marginBottom: 60,
    style: {fontFamily: "'Liberation Sans', Arial, Helvetica, sans-serif", fontSize: "22px", color: "#000", background: "transparent", overflow: "visible", maxWidth: "none"},
    x: {domain: xDomain, ticks: xTicks, tickSize: 5, tickPadding: 5, tickFormat: d3.format("d"), label: null},
    y: {domain: yDomain, ticks: yTicks, tickSize: 6, tickPadding: 5, tickFormat: d3.format("d"), label: null},
    marks: [
      Plot.dot(orange, {x: "event", y: "value", r: 2, fill: colors.cSbSe, fillOpacity: 0.8, stroke: "none"}),
      Plot.dot(blue, {x: "event", y: "value", r: 2, fill: colors.aSbSe, fillOpacity: 0.8, stroke: "none"}),
      Plot.frame({stroke: "#555", strokeWidth: 1.3}),
      Plot.text(["Number of switching events"], {text: d => d, frameAnchor: "bottom", lineAnchor: "middle", textAnchor: "middle", dy: 46, fontSize: 23}),
      Plot.text(["Normalized Transmission(dB)"], {text: d => d, frameAnchor: "left", lineAnchor: "middle", textAnchor: "middle", rotate: -90, dx: -70, fontSize: 23})
    ]
  });
}

document.getElementById("pa").appendChild(panel({
  blue: toRows(aSbSe_a, aSbSe_a_alt), orange: toRows(cSbSe_a, cSbSe_a_alt),
  xDomain: [-14, 2356], yDomain: [-12.55, 0.64], yTicks: yTicksA,
  marginLeft: 92, marginRight: 15
}));
document.getElementById("pb").appendChild(panel({
  blue: toRows(aSbSe_b, aSbSe_b_alt), orange: toRows(cSbSe_b, cSbSe_b_alt),
  xDomain: [-13, 2356], yDomain: [-26.15, 0.43], yTicks: yTicksB,
  marginLeft: 93, marginRight: 10
}));

// Overlay: panel letters, legends and SET/RESET cycle annotations
const ov = d3.select("#wrap").append("svg").attr("id", "overlay").attr("width", 1177).attr("height", 487)
  .style("font-family", "'Liberation Sans', Arial, Helvetica, sans-serif");

ov.append("text").attr("x", 12).attr("y", 37).attr("font-size", 27).attr("font-weight", "bold").text("a");
ov.append("text").attr("x", 606).attr("y", 37).attr("font-size", 27).attr("font-weight", "bold").text("b");

function legend(cx, cy0, gap, tx) {
  seriesNames.forEach((name, i) => {
    const cy = cy0 + i * gap;
    ov.append("circle").attr("cx", cx).attr("cy", cy).attr("r", 8.5).attr("fill", legendColors[name]);
    ov.append("text").attr("x", tx).attr("y", cy + 8).attr("font-size", 23).text(name);
  });
}
legend(135, 227, 36, 177);
legend(1052, 358, 36, 1089);

function cycle(cfg) {
  ov.append("path").attr("d", cfg.arc1).attr("fill", "none").attr("stroke", cfg.c1).attr("stroke-width", 1.5);
  ov.append("path").attr("d", cfg.head1).attr("fill", cfg.c1);
  ov.append("path").attr("d", cfg.arc2).attr("fill", "none").attr("stroke", cfg.c2).attr("stroke-width", 1.5);
  ov.append("path").attr("d", cfg.head2).attr("fill", cfg.c2);
  ov.append("text").attr("x", cfg.t1x).attr("y", cfg.ty).attr("font-size", 25).text(cfg.t1);
  ov.append("text").attr("x", cfg.t2x).attr("y", cfg.ty).attr("font-size", 25).text(cfg.t2);
}
const ORANGE = "#ec842c", BLUE = "#3f6db8";
cycle({
  arc1: "M428,135.6 A48,38.5 0 0 0 406,205.5", c1: ORANGE, head1: "M409,197 L412,213 L431,207 Z",
  arc2: "M443,211.7 A48,38.5 0 0 0 458,141", c2: BLUE, head2: "M433,141 L456,134 L452,151 Z",
  t1: "SET", t1x: 333, t2: "RESET", t2x: 488, ty: 183
});
cycle({
  arc1: "M1067,172.1 A41,29 0 0 0 1054,227.3", c1: BLUE, head1: "M1051,219 L1053,233 L1071,226 Z",
  arc2: "M1078,229.6 A41,29 0 0 0 1092,176", c2: ORANGE, head2: "M1073,175 L1092,167 L1090,183 Z",
  t1: "RESET", t1x: 941, t2: "SET", t2x: 1122, ty: 205
});
</script>
</body></html>
